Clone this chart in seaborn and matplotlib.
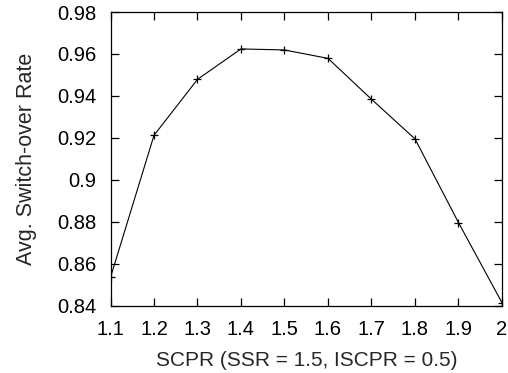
import matplotlib
matplotlib.use("Agg")
import matplotlib.pyplot as plt
import seaborn as sns
import pandas as pd

scpr = [1.1, 1.2, 1.3, 1.4, 1.5, 1.6, 1.7, 1.8, 1.9, 2.0]
rate = [0.8535, 0.9212, 0.9479, 0.9624, 0.9619, 0.9579, 0.9384, 0.9195, 0.8796, 0.8414]
xticks = [1.1, 1.2, 1.3, 1.4, 1.5, 1.6, 1.7, 1.8, 1.9, 2.0]
xticklabels = ["1.1", "1.2", "1.3", "1.4", "1.5", "1.6", "1.7", "1.8", "1.9", "2"]
yticks = [0.84, 0.86, 0.88, 0.90, 0.92, 0.94, 0.96, 0.98]
yticklabels = ["0.84", "0.86", "0.88", "0.9", "0.92", "0.94", "0.96", "0.98"]

sns.set_theme(style="ticks")
plt.rcParams['font.family'] = ['Liberation Sans', 'DejaVu Sans']

df = pd.DataFrame({"x": scpr, "y": rate})
fig = plt.figure(figsize=(5.08, 3.73), dpi=100)
ax = fig.add_axes([110.5/508, 1 - 305.7/373, (502 - 110.5)/508, (305.7 - 12)/373])
sns.lineplot(data=df, x="x", y="y", ax=ax, color="black", linewidth=0.8,
             marker="+", markersize=6, markeredgewidth=0.9, markeredgecolor="black")
ax.set_xlim(1.1, 2.0)
ax.set_ylim(0.84, 0.98)
ax.set_xticks(xticks)
ax.set_xticklabels(xticklabels)
ax.set_yticks(yticks)
ax.set_yticklabels(yticklabels)
ax.tick_params(direction="in", length=6, width=0.9, top=True, right=True,
               labelsize=14.5, colors="black")
ax.tick_params(axis="x", pad=10)
ax.tick_params(axis="y", pad=10)
for s in ax.spines.values():
    s.set_linewidth(0.9)
    s.set_color("black")
ax.set_xlabel("SCPR (SSR = 1.5, ISCPR = 0.5)", fontsize=15, labelpad=9)
ax.set_ylabel("Avg. Switch-over Rate", fontsize=15.5, labelpad=15)
fig.savefig("out.png", dpi=100)
